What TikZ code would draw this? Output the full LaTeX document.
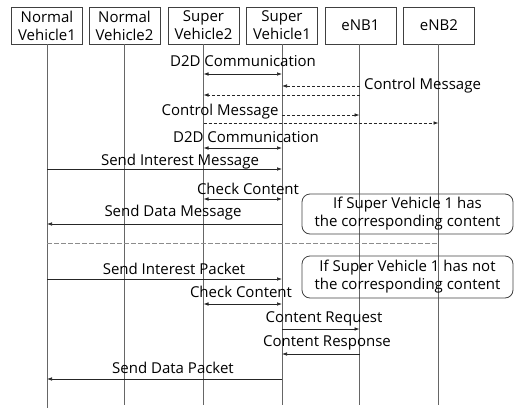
\documentclass[tikz,border=0pt]{standalone}
\usepackage{fontspec}
\setmainfont{Open Sans}
\usetikzlibrary{arrows.meta}
\begin{document}
\begin{tikzpicture}[x=1pt,y=-1pt,
  every node/.style={font=\fontsize{15}{18}\selectfont, inner sep=0pt},
  head/.style={draw=black!75, line width=0.8pt, minimum width=71pt, minimum height=37pt, align=center},
  life/.style={draw=black!60, line width=0.9pt},
  msg/.style={draw=black!85, line width=0.7pt, -{Latex[length=5pt,width=3.6pt]}},
  bimsg/.style={draw=black!85, line width=0.7pt, {Latex[length=5pt,width=3.6pt]}-{Latex[length=5pt,width=3.6pt]}},
  ctrl/.style={msg, dashed, dash pattern=on 3pt off 2pt},
  lbl/.style={anchor=center},
  note/.style={draw=black!75, line width=0.8pt, rounded corners=8pt, minimum width=211pt, align=center}]
\useasboundingbox (0,0) rectangle (514,410);
% headers
\node[head] (nv1) at (47,25.5) {Normal\\Vehicle1};
\node[head] (nv2) at (124.5,25.5) {Normal\\Vehicle2};
\node[head] (sv2) at (203.5,25.5) {Super\\Vehicle2};
\node[head] (sv1) at (282,25.5) {Super\\Vehicle1};
\node[head] (enb1) at (360.5,25.5) {eNB1};
\node[head] (enb2) at (439,25.5) {eNB2};
% lifeline ends
\coordinate (nv1e) at (47,408);
\coordinate (nv2e) at (124.5,405);
\coordinate (sv2e) at (203.5,405);
\coordinate (sv1e) at (282,405);
\coordinate (enb1e) at (359.5,405);
\coordinate (enb2e) at (438.5,405);
\draw[life] (nv1) -- (nv1e);
\draw[life] (nv2) -- (nv2e);
\draw[life] (sv2) -- (sv2e);
\draw[life] (sv1) -- (sv1e);
\draw[life] (enb1.south -| enb1e) -- (enb1e);
\draw[life] (enb2.south -| enb2e) -- (enb2e);
% row coordinates
\foreach \n/\y in {r1/74,r2/86,r3/95,r4/115,r5/123,r6/148,r7/169,r8/199,r9/224,r10/279,r11/304,r12/329,r13/354,r14/379,rs/243}
  \coordinate (\n) at (0,\y);
% messages
\draw[bimsg] (sv2e |- r1) -- (sv1e |- r1);
\node[lbl] (t1) at (243,61) {D2D Communication};
\draw[ctrl] (enb1e |- r2) -- (sv1e |- r2);
\node[lbl] (t2) at (422.5,86) {Control Message};
\draw[ctrl] (enb1e |- r3) -- (sv2e |- r3);
\node[lbl] (t3) at (220,112) {Control Message};
\draw[ctrl] (sv1e |- r4) -- (enb1e |- r4);
\draw[ctrl] (sv2e |- r5) -- (enb2e |- r5);
\node[lbl] (t4) at (246,137) {D2D Communication};
\draw[bimsg] (sv2e |- r6) -- (sv1e |- r6);
\node[lbl] (t5) at (180,162) {Send Interest Message};
\draw[msg] (nv1e |- r7) -- (sv1e |- r7);
\node[lbl] (t6) at (248,189) {Check Content};
\draw[bimsg] (sv2e |- r8) -- (sv1e |- r8);
\node[lbl] (t7) at (173,213) {Send Data Message};
\draw[msg] (sv1e |- r9) -- (nv1e |- r9);
\node[note, minimum height=40pt] (n1) at (407.5,214) {If Super Vehicle 1 has\\the corresponding content};
% separator
\draw[draw=black!45, line width=0.9pt, dashed, dash pattern=on 4.5pt off 2.5pt] (nv1e |- rs) -- (enb2e |- rs);
\node[lbl] (t8) at (174,269) {Send Interest Packet};
\draw[msg] (nv1e |- r10) -- (sv1e |- r10);
\node[note, minimum height=42pt] (n2) at (407.5,277) {If Super Vehicle 1 has not\\the corresponding content};
\node[lbl] (t9) at (241,292) {Check Content};
\draw[bimsg] (sv2e |- r11) -- (sv1e |- r11);
\node[lbl] (t10) at (324,319) {Content Request};
\draw[msg] (sv1e |- r12) -- (enb1e |- r12);
\node[lbl] (t11) at (327,343) {Content Response};
\draw[msg] (enb1e |- r13) -- (sv1e |- r13);
\node[lbl] (t12) at (173,368) {Send Data Packet};
\draw[msg] (sv1e |- r14) -- (nv1e |- r14);
\end{tikzpicture}
\end{document}
